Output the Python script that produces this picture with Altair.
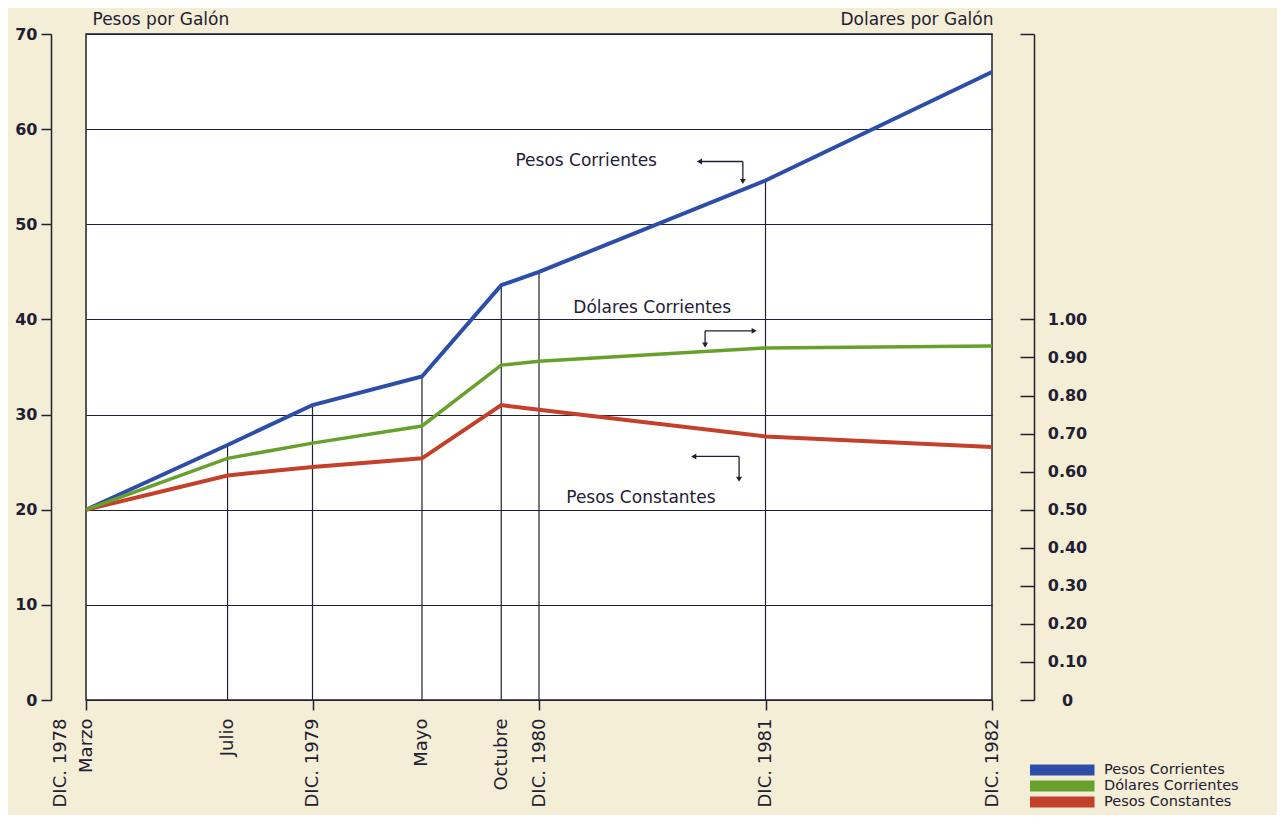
import altair as alt
import pandas as pd

# ---------------- data ----------------
fechas_x = [0, 7.5, 12, 17.8, 22, 24, 36, 48]
fechas_etiquetas = [["DIC. 1978", "Marzo"], "Julio", "DIC. 1979", "Mayo",
                    "Octubre", "DIC. 1980", "DIC. 1981", "DIC. 1982"]
pesos_corrientes = [20, 26.8, 31.0, 34.0, 43.6, 45.0, 54.6, 66.0]
dolares_corrientes = [0.50, 0.635, 0.675, 0.72, 0.88, 0.89, 0.925, 0.93]
pesos_constantes = [20, 23.6, 24.5, 25.4, 31.0, 30.5, 27.7, 26.6]

series = ["Pesos Corrientes", "Dólares Corrientes", "Pesos Constantes"]
colores = ["#2c4ea8", "#68a02c", "#c4402a"]

ticks_pesos = [0, 10, 20, 30, 40, 50, 60, 70]
ticks_dolares = [0, 0.1, 0.2, 0.3, 0.4, 0.5, 0.6, 0.7, 0.8, 0.9, 1.0, 1.75]
fechas_con_marca = [0, 12, 24, 36, 48]

notas_texto = ["Pesos Corrientes", "Dólares Corrientes", "Pesos Constantes"]
notas_x = [26.5, 30.0, 29.4]
notas_y = [56.6, 41.2, 21.2]

seg_x = [32.5, 34.8, 32.8, 32.8, 32.2, 34.6]
seg_x2 = [34.8, 34.8, 35.4, 32.8, 34.6, 34.6]
seg_y = [56.6, 56.6, 38.8, 38.8, 25.6, 25.6]
seg_y2 = [56.6, 54.5, 38.8, 37.3, 25.6, 23.2]
punta_x = [32.5, 34.8, 35.4, 32.8, 32.2, 34.6]
punta_y = [56.6, 54.5, 38.8, 37.3, 25.6, 23.2]
punta_forma = ["triangle-left", "triangle-down", "triangle-right",
               "triangle-down", "triangle-left", "triangle-down"]

# ---------------- tables ----------------
n = len(fechas_x)
df_pesos = pd.DataFrame({
    "x": fechas_x * 2,
    "valor": pesos_corrientes + pesos_constantes,
    "serie": [series[0]] * n + [series[2]] * n,
    "orden": list(range(n)) * 2,
})
df_dol = pd.DataFrame({"x": fechas_x, "valor": dolares_corrientes,
                       "serie": [series[1]] * n, "orden": list(range(n))})
df_drop = pd.DataFrame({"x": fechas_x[1:7], "valor": pesos_corrientes[1:7]})
df_notas = pd.DataFrame({"x": notas_x, "valor": notas_y, "t": notas_texto})
df_seg = pd.DataFrame({"x": seg_x, "x2": seg_x2, "valor": seg_y, "v2": seg_y2})
df_punta = pd.DataFrame({"x": punta_x, "valor": punta_y, "forma": punta_forma})

INK = "#1f2033"
FONT = "DejaVu Sans"


def lbl(v):
    if isinstance(v, list):
        return "[" + ",".join("'" + s + "'" for s in v) + "]"
    return "'" + v + "'"


label_expr = ""
for v, t in zip(fechas_x, fechas_etiquetas):
    label_expr += f"datum.value == {v} ? {lbl(t)} : "
label_expr += "''"

x_enc = alt.X(
    "x:Q",
    scale=alt.Scale(domain=[0, 48], nice=False, zero=False),
    axis=alt.Axis(
        values=fechas_x, labelExpr=label_expr, labelAngle=270,
        labelAlign="right", labelBaseline="middle", labelFont=FONT,
        labelFontSize=18, labelColor=INK, labelLineHeight=26,
        labelOffset={"expr": "datum.value == 0 ? -26 : 0"},
        labelPadding=8, labelOverlap=False, labelFlush=False,
        tickSize=10, tickColor=INK, tickWidth=1.5,
        tickOpacity={"expr": "indexof(" + str(fechas_con_marca) + ", datum.value) >= 0 ? 1 : 0"},
        domain=False, grid=False, title=None,
    ),
)

y_pesos = alt.Y(
    "valor:Q",
    scale=alt.Scale(domain=[0, 70], nice=False, zero=True),
    axis=alt.Axis(
        values=ticks_pesos, orient="left", offset=35, tickSize=10,
        tickColor=INK, tickWidth=1.5, domainColor=INK, domainWidth=1.5,
        labelFont=FONT, labelFontSize=16, labelFontWeight="bold",
        labelColor=INK, labelPadding=4, grid=True, gridColor=INK,
        gridWidth=1, gridOpacity=1,
        title="Pesos por Galón", titleAngle=0, titleX=41, titleY=-10,
        titleAlign="left", titleBaseline="alphabetic", titleFont=FONT,
        titleFontSize=17, titleFontWeight="normal", titleColor=INK,
    ),
)

y_dol = alt.Y(
    "valor:Q",
    scale=alt.Scale(domain=[0, 1.75], nice=False, zero=True),
    axis=alt.Axis(
        values=ticks_dolares, orient="left", offset=-948,
        labelExpr="datum.value > 1.5 ? '' : datum.value == 0 ? '0' : format(datum.value, '.2f')",
        tickSize=14, tickColor=INK, tickWidth=1.5, domainColor=INK,
        domainWidth=1.5, labelFont=FONT, labelFontSize=16,
        labelFontWeight="bold", labelColor=INK, labelAlign="center",
        labelPadding=-47, grid=False,
        title="Dolares por Galón", titleAngle=0, titleX=-41, titleY=-10,
        titleAlign="right", titleBaseline="alphabetic", titleFont=FONT,
        titleFontSize=17, titleFontWeight="normal", titleColor=INK,
    ),
)

color_enc = alt.Color(
    "serie:N",
    scale=alt.Scale(domain=series, range=colores),
    legend=alt.Legend(
        orient="none", legendX=944, legendY=728, title=None,
        symbolType="M-13,0H13", symbolStrokeWidth=11, symbolSize=25,
        symbolOffset=24,
        labelFont=FONT, labelFontSize=14.5, labelColor=INK, labelOffset=34,
        rowPadding=-1, padding=0, symbolOpacity=1, clipHeight=16,
    ),
)

drop = alt.Chart(df_drop).transform_calculate(cero="0").mark_rule(
    color=INK, strokeWidth=1.2
).encode(x=x_enc, y=y_pesos, y2=alt.Y2("cero:Q"))

lineas = alt.Chart(df_pesos).mark_line(strokeWidth=4).encode(
    x=x_enc, y=y_pesos, color=color_enc, order="orden:Q",
    detail="serie:N",
)

notas = alt.Chart(df_notas).mark_text(
    font=FONT, fontSize=17, color=INK, align="center", baseline="middle"
).encode(x=x_enc, y=y_pesos, text="t:N")

segs = alt.Chart(df_seg).mark_rule(color=INK, strokeWidth=1.3).encode(
    x=x_enc, x2="x2:Q", y=y_pesos, y2="v2:Q"
)

puntas = alt.Chart(df_punta).mark_point(
    filled=True, color=INK, size=35, opacity=1
).encode(x=x_enc, y=y_pesos, shape=alt.Shape("forma:N", scale=None))

capa_pesos = alt.layer(drop, notas, segs, puntas, lineas)

verde = alt.Chart(df_dol).mark_line(strokeWidth=3.5).encode(
    x=x_enc, y=y_dol, color=color_enc, order="orden:Q"
)

chart = alt.layer(capa_pesos, verde).resolve_scale(y="independent").properties(
    width=906, height=666,
    autosize=alt.AutoSizeParams(type="none"),
    padding={"left": 78, "top": 26, "right": 285, "bottom": 115},
    background="#f4eed6",
).configure_view(
    fill="white", stroke=INK, strokeWidth=1.5
)

chart.save("out.html", embed_options={"renderer": "svg", "actions": False})
